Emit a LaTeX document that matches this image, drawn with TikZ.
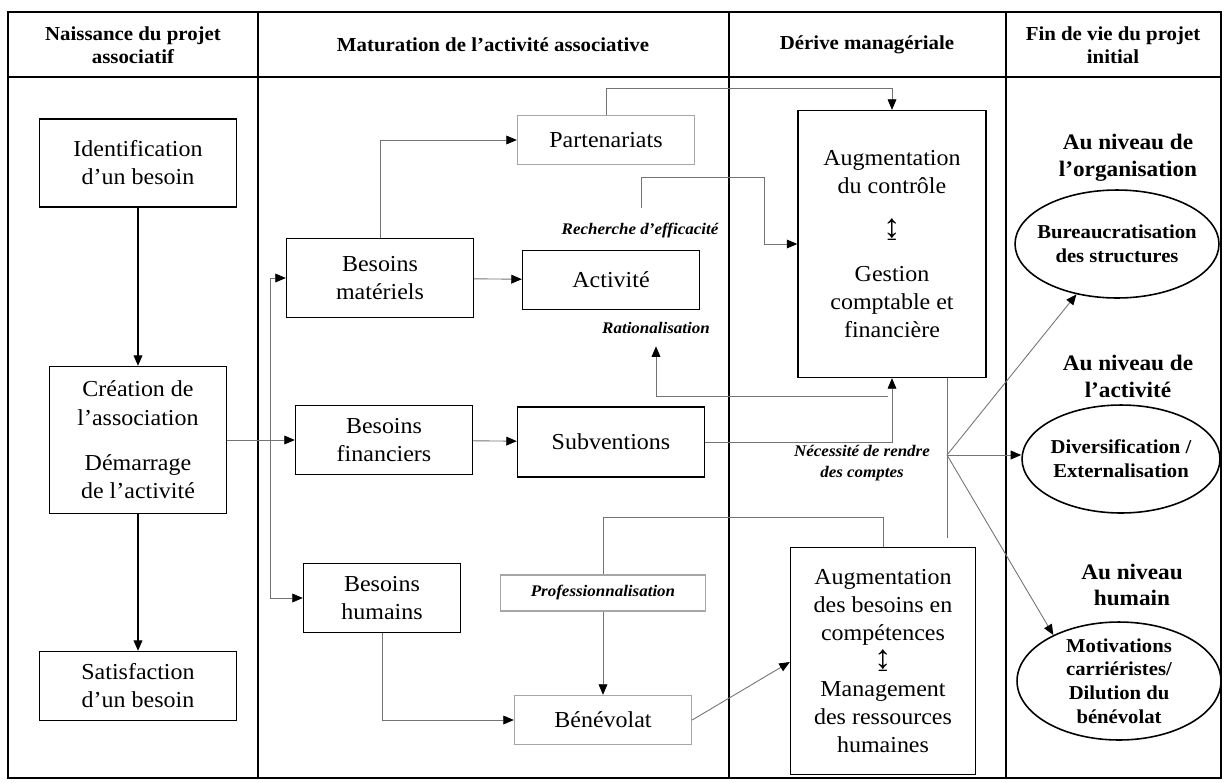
\documentclass[tikz,border=0pt]{standalone}
\usepackage{fontspec}
\setmainfont{Liberation Serif}[FakeStretch=1.05]
\usetikzlibrary{arrows.meta}
\usetikzlibrary{shapes.geometric}

\newcommand{\boxfont}{\fontsize{13}{16}\selectfont}
\newcommand{\headfont}{\fontsize{11.3}{13}\selectfont\bfseries}
\newcommand{\levelfont}{\fontsize{12.6}{15.3}\selectfont\bfseries}
\newcommand{\ellfont}{\fontsize{11.2}{13.5}\selectfont\bfseries}
\newcommand{\notefont}{\fontsize{9.2}{12}\selectfont\bfseries\itshape}
\newcommand{\updown}{{\fontsize{19}{16}\selectfont ↨}}

\begin{document}
\begin{tikzpicture}[x=0.02cm,y=-0.02cm,
    box/.style={draw,line width=0.8pt,align=center,inner sep=0pt,font=\boxfont},
    gbox/.style={box,draw=black!35},
    ell/.style={draw,ellipse,line width=0.9pt,inner sep=0pt},
    head/.style={align=center,font=\headfont},
    level/.style={align=center,font=\levelfont},
    note/.style={align=center,font=\notefont,inner sep=2pt},
    arr/.style={line width=0.8pt,-{Triangle[length=6pt,width=5pt]}},
    gline/.style={draw=black!55,line width=0.5pt},
    garr/.style={gline,-{Triangle[length=6pt,width=5pt,color=black]}}]
    \useasboundingbox (0,0) rectangle (1227,782);

    % table
    \draw[line width=1.1pt] (8,12) rectangle (1221,778);
    \draw[line width=1.1pt] (8,77) -- (1221,77);
    \draw[line width=1.1pt] (258,12) -- (258,778);
    \draw[line width=1.1pt] (729,12) -- (729,778);
    \draw[line width=1.1pt] (1006,12) -- (1006,778);

    \node[head] (h1) at (133,45) {Naissance du projet\\associatif};
    \node[head] (h2) at (493,45) {Maturation de l’activité associative};
    \node[head] (h3) at (867,45) {Dérive managériale};
    \node[head] (h4) at (1113,45) {Fin de vie du projet\\initial};

    % naissance
    \node[box,minimum width=3.94cm,minimum height=1.76cm] (ident) at (138,163) {Identification\\d’un besoin};
    \node[box,minimum width=3.54cm,minimum height=2.94cm] (creat) at (138,440) {Création de\\l’association\\[10pt]Démarrage\\de l’activité};
    \node[box,minimum width=3.94cm,minimum height=1.38cm] (satisf) at (138,686) {Satisfaction\\d’un besoin};

    % maturation
    \node[box,minimum width=3.74cm,minimum height=1.58cm] (besmat) at (380,278) {Besoins\\matériels};
    \node[box,minimum width=3.54cm,minimum height=1.38cm] (besfin) at (384,440) {Besoins\\financiers};
    \node[box,minimum width=3.14cm,minimum height=1.38cm] (beshum) at (382,598) {Besoins\\humains};
    \node[gbox,minimum width=3.54cm,minimum height=0.98cm] (part) at (606,140) {Partenariats};
    \node[box,minimum width=3.54cm,minimum height=1.18cm] (activ) at (611,280) {Activité};
    \node[box,minimum width=3.74cm,minimum height=1.40cm] (subv) at (611,442) {Subventions};
    \node[gbox,minimum width=4.10cm,minimum height=0.72cm,font=\notefont] (prof) at (603,593) {Professionnalisation};
    \node[gbox,minimum width=3.54cm,minimum height=0.98cm] (benev) at (603,720) {Bénévolat};
    \node[note] (rech) at (640,231) {Recherche d’efficacité};
    \node[note] (ration) at (656,328) {Rationalisation};

    % derive
    \node[box,minimum width=3.76cm,minimum height=5.34cm] (ctrl) at (892,244) {Augmentation\\du contrôle\\[9pt]\updown\\[9pt]Gestion\\comptable et\\financière};
    \node[box,minimum width=3.70cm,minimum height=4.54cm] (compet) at (883,661) {Augmentation\\des besoins en\\compétences\\\updown\\Management\\des ressources\\humaines};
    \node[note] (necess) at (862,463) {Nécessité de rendre\\des comptes};

    % fin de vie
    \node[level] (niv1) at (1128,158) {Au niveau de\\l’organisation};
    \node[level] (niv2) at (1128,376) {Au niveau de\\l’activité};
    \node[level] (niv3) at (1132,585) {Au niveau\\humain};
    \node[ell,minimum width=4.08cm,minimum height=2.16cm] (bureau) at (1117,244) {};
    \node[ell,minimum width=3.96cm,minimum height=2.16cm] (divers) at (1121,459) {};
    \node[ell,minimum width=4.08cm,minimum height=2.36cm] (motiv) at (1119,681) {};
    \node[align=center,font=\ellfont] (bureautxt) at (bureau) {Bureaucratisation\\des structures};
    \node[align=center,font=\ellfont] (diverstxt) at (divers) {Diversification /\\Externalisation};
    \node[align=center,font=\ellfont] (motivtxt) at (motiv) {Motivations\\carriéristes/\\Dilution du\\bénévolat};

    \coordinate (split) at (270,440);
    \coordinate (rechtop) at (641,208);
    \coordinate (ratstart) at (888,396);
    \coordinate (fan) at (947,455);
    \coordinate (fanbot) at (947,538);

    \draw[arr] (ident) -- (creat);
    \draw[arr] (creat) -- (satisf);
    \draw[garr] (creat) -- (besfin);
    \draw[garr] (split) |- (besmat);
    \draw[garr] (split) |- (beshum);
    \draw[garr] (besmat) |- (part);
    \draw[garr] (besmat) -- (activ);
    \draw[garr] (besfin) -- (subv);
    \draw[garr] (beshum) |- (benev);
    \draw[garr] (prof) -- (benev);
    \draw[gline] (compet) |- (prof.north |- 0,517) -- (prof);
    \draw[garr] (benev.east) -- (compet.west |- 0,662);
    \draw[garr] (part.north) -- (part.north |- 0,88) -| (ctrl.north);
    \draw[garr] (rechtop) |- (764,177) |- (ctrl);
    \draw[garr] (subv) -| (ctrl);
    \draw[garr,shorten >=5pt] (ratstart) -| (ration);
    \draw[gline] (ctrl.south -| fan) -- (fanbot);
    \draw[garr] (fan) -- (bureau);
    \draw[garr] (fan) -- (fan -| divers.west);
    \draw[garr] (fan) -- (motiv.145);
\end{tikzpicture}
\end{document}
